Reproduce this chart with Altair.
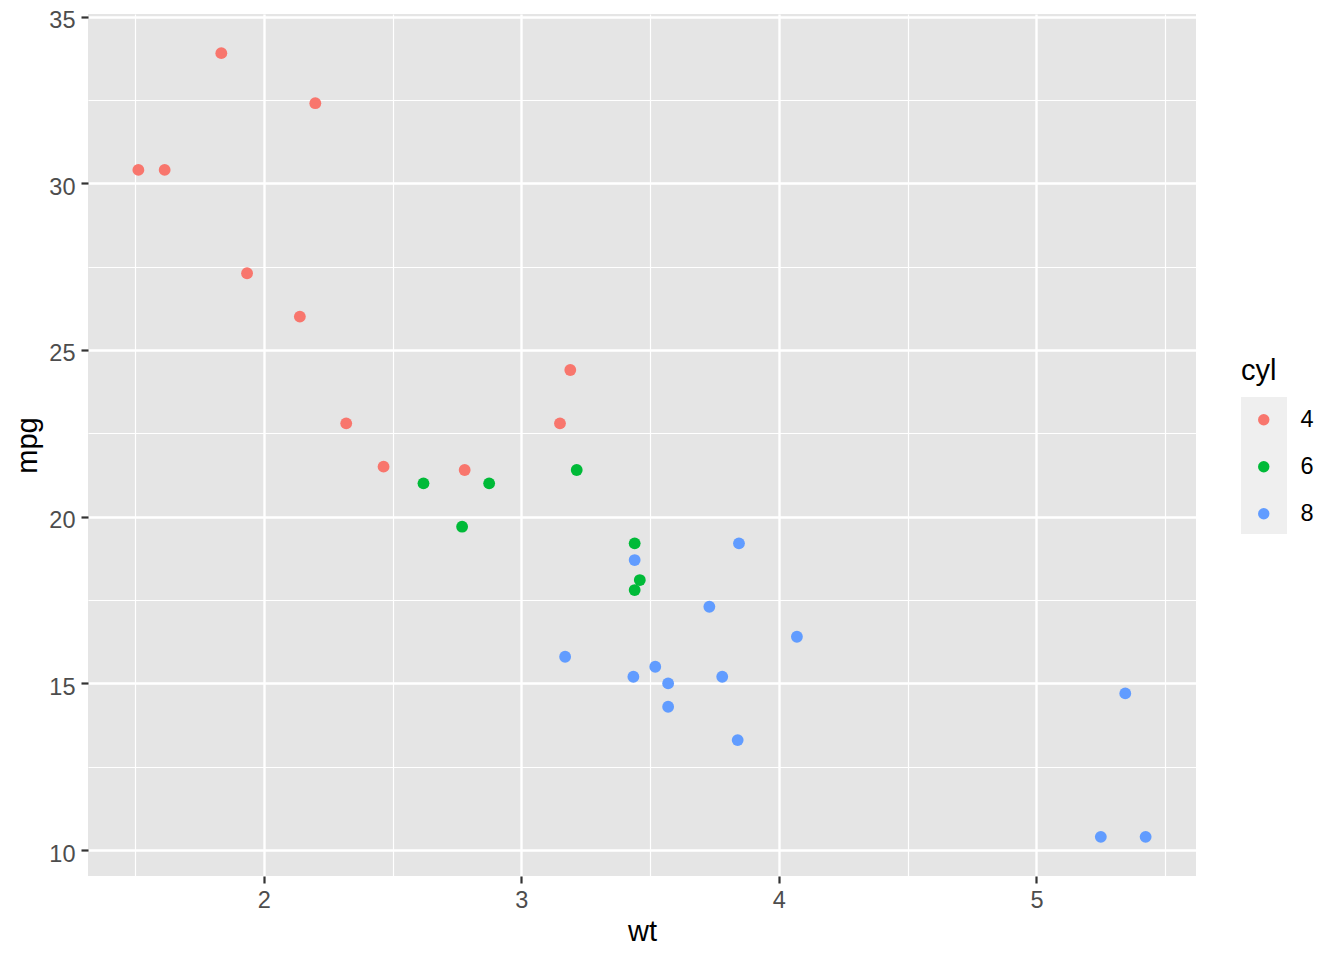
import altair as alt
import pandas as pd

wt = [2.620, 2.875, 2.320, 3.215, 3.440, 3.460, 3.570, 3.190, 3.150, 3.440, 3.440,
      4.070, 3.730, 3.780, 5.250, 5.424, 5.345, 2.200, 1.615, 1.835, 2.465, 3.520,
      3.435, 3.840, 3.845, 1.935, 2.140, 1.513, 3.170, 2.770, 3.570, 2.780]
mpg = [21.0, 21.0, 22.8, 21.4, 18.7, 18.1, 14.3, 24.4, 22.8, 19.2, 17.8,
       16.4, 17.3, 15.2, 10.4, 10.4, 14.7, 32.4, 30.4, 33.9, 21.5, 15.5,
       15.2, 13.3, 19.2, 27.3, 26.0, 30.4, 15.8, 19.7, 15.0, 21.4]
cyl = [6, 6, 4, 6, 8, 6, 8, 4, 4, 6, 6,
       8, 8, 8, 8, 8, 8, 4, 4, 4, 4, 8,
       8, 8, 8, 4, 4, 4, 8, 6, 8, 4]
cyl_levels = ["4", "6", "8"]
cyl_colors = ["#F8766D", "#00BA38", "#619CFF"]
x_ticks = [1.5, 2, 2.5, 3, 3.5, 4, 4.5, 5, 5.5]
y_ticks = [10, 12.5, 15, 17.5, 20, 22.5, 25, 27.5, 30, 32.5, 35]

df = pd.DataFrame({"wt": wt, "mpg": mpg, "cyl": [str(c) for c in cyl]})

FONT = "Liberation Sans"
is_major = "datum.value % 1 == 0"
is_major_y = "datum.value % 5 == 0"

x_axis = alt.Axis(
    values=x_ticks,
    labelExpr="datum.value % 1 == 0 ? format(datum.value, 'd') : ''",
    grid=True,
    gridColor="white",
    gridWidth=alt.condition(is_major, alt.value(2.4), alt.value(1.2)),
    tickOpacity=alt.condition(is_major, alt.value(1), alt.value(0)),
    tickColor="#333333", tickWidth=2.2, tickSize=7,
    domain=False,
    labelFont=FONT, labelFontSize=23.5, labelColor="#4D4D4D", labelPadding=5,
    titleFont=FONT, titleFontSize=29, titleColor="black", titleFontWeight="normal",
    titlePadding=6,
)
y_axis = alt.Axis(
    values=y_ticks,
    labelExpr="datum.value % 5 == 0 ? format(datum.value, 'd') : ''",
    grid=True,
    gridColor="white",
    gridWidth=alt.condition(is_major_y, alt.value(2.4), alt.value(1.2)),
    tickOpacity=alt.condition(is_major_y, alt.value(1), alt.value(0)),
    tickColor="#333333", tickWidth=2.2, tickSize=7,
    domain=False,
    labelFont=FONT, labelFontSize=23.5, labelColor="#4D4D4D", labelPadding=6,
    labelOffset=4,
    titleFont=FONT, titleFontSize=29, titleColor="black", titleFontWeight="normal",
    titlePadding=6,
)

points = alt.Chart(df).mark_circle(size=140, opacity=1).encode(
    x=alt.X("wt:Q", scale=alt.Scale(domain=[1.3174, 5.6196], nice=False, zero=False), axis=x_axis),
    y=alt.Y("mpg:Q", scale=alt.Scale(domain=[9.225, 35.075], nice=False, zero=False), axis=y_axis),
    color=alt.Color(
        "cyl:N",
        scale=alt.Scale(domain=cyl_levels, range=cyl_colors),
        legend=alt.Legend(
            title="cyl", orient="none", legendX=1153, legendY=343,
            titleFont=FONT, titleFontSize=29, titleFontWeight="normal", titleColor="black",
            titlePadding=22,
            labelFont=FONT, labelFontSize=23.5, labelColor="black",
            labelOffset=25, symbolOffset=11, symbolSize=130, symbolType="circle",
            symbolStrokeWidth=0, rowPadding=22, padding=0,
        ),
    ),
)

key_bg = alt.Chart(pd.DataFrame({"k": [0]})).mark_rect(color="#EFEFEF").encode(
    x=alt.value(1153), x2=alt.value(1199), y=alt.value(383), y2=alt.value(520)
)

chart = alt.layer(key_bg, points).properties(
    width=1108, height=862,
    autosize=alt.AutoSizeParams(type="none"),
    padding={"left": 80, "top": 6, "right": 140, "bottom": 70},
).configure_view(fill="#E5E5E5", stroke=None)

chart.save("out.html", embed_options={"renderer": "svg", "actions": False})
